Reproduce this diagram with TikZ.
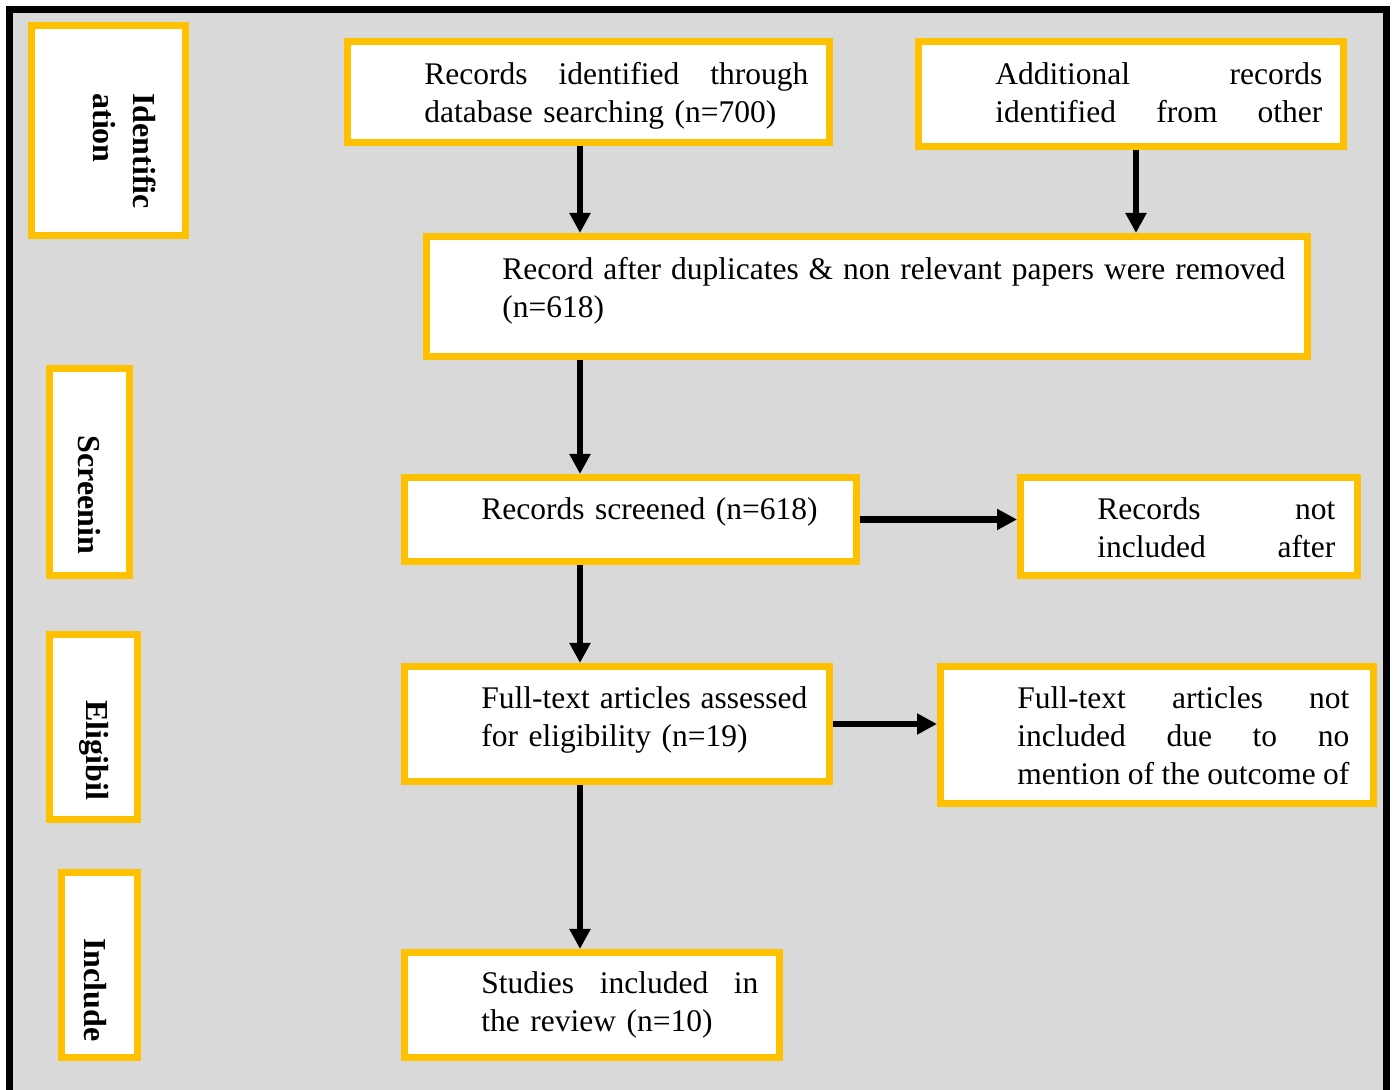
\documentclass[tikz,border=0pt]{standalone}
\usepackage{fontspec}
\setmainfont{Liberation Serif}
\usetikzlibrary{arrows.meta}
\definecolor{gold}{HTML}{FFC000}
\definecolor{panel}{HTML}{D9D9D9}
\newcommand{\jline}[2]{\makebox[#1][l]{#2}}
\begin{document}
\begin{tikzpicture}[x=0.5pt,y=-0.5pt,
  box/.style={draw=gold, fill=white, line width=3.5pt, rectangle, inner sep=0pt, anchor=north west},
  txt/.style={anchor=base west, inner sep=0pt, align=left, text width=#1, font=\fontsize{15.75pt}{19pt}\selectfont},
  side/.style={anchor=base west, inner sep=0pt, rotate=-90, align=left, text width=100pt, font=\bfseries\fontsize{16pt}{20pt}\selectfont},
  arr/.style={line width=3.2pt, -{Triangle[length=10pt,width=10pt]}}]
\useasboundingbox (0,0) rectangle (1394,1090);
\fill[white] (0,0) rectangle (1394,1090);
\begin{scope}
\clip (0,0) rectangle (1394,1090);
\draw[line width=3.5pt, fill=panel] (9.5,9.5) rectangle (1386,1130);
\end{scope}

% side boxes (outer corner positions)
\node[box, minimum width=77pt, minimum height=105pt] (sid) at (28,22) {};
\node[box, minimum width=40pt, minimum height=103.5pt] (ssc) at (46,365) {};
\node[box, minimum width=44pt, minimum height=92.5pt] (sel) at (46,631) {};
\node[box, minimum width=38pt, minimum height=92.5pt] (sin) at (58,869) {};
\node[side] (sid-t) at (133,93) {Identific\\ation};
\node[side] (ssc-t) at (78,435) {Screenin};
\node[side] (sel-t) at (86,700) {Eligibil};
\node[side] (sin-t) at (84,938) {Include};

% flow boxes
\node[box, minimum width=241pt, minimum height=50.5pt] (rid) at (344,38) {};
\node[box, minimum width=212.5pt, minimum height=52.5pt] (add) at (915,38) {};
\node[box, minimum width=440.5pt, minimum height=60pt] (dup) at (423,233) {};
\node[box, minimum width=226pt, minimum height=42pt] (scr) at (401,474) {};
\node[box, minimum width=168.5pt, minimum height=49pt] (nsc) at (1017,474) {};
\node[box, minimum width=212.5pt, minimum height=57.5pt] (fta) at (401,663) {};
\node[box, minimum width=216.5pt, minimum height=68.5pt] (ftn) at (937,663) {};
\node[box, minimum width=187.5pt, minimum height=52.5pt] (inc) at (401,949) {};

\node[txt=192pt] (rid-t) at (424,85) {\jline{192pt}{Records\hfill identified\hfill through}\\database searching (n=700)};
\node[txt=163.5pt] (add-t) at (995,85) {\jline{163.5pt}{Additional\hfill records}\\\jline{163.5pt}{identified\hfill from\hfill other}};
\node[txt=391.5pt] (dup-t) at (502,280) {\jline{391.5pt}{Record\hfill after\hfill duplicates\hfill \&\hfill non\hfill relevant\hfill papers\hfill were\hfill removed}\\(n=618)};
\node[txt=200pt] (scr-t) at (481,520) {Records screened (n=618)};
\node[txt=119pt] (nsc-t) at (1097,520) {\jline{119pt}{Records\hfill not}\\\jline{119pt}{included\hfill after}};
\node[txt=163pt] (fta-t) at (481,709) {\jline{163pt}{Full-text\hfill articles\hfill assessed}\\for eligibility (n=19)};
\node[txt=166pt] (ftn-t) at (1017,709) {\jline{166pt}{Full-text\hfill articles\hfill not}\\\jline{166pt}{included\hfill due\hfill to\hfill no}\\\jline{166pt}{mention\hfill of\hfill the\hfill outcome\hfill of}};
\node[txt=138.5pt] (inc-t) at (481,994) {\jline{138.5pt}{Studies\hfill included\hfill in}\\the review (n=10)};

% connectors
\coordinate (c1) at (580,0);
\coordinate (c2) at (1136,0);
\draw[arr] (rid.south -| c1) -- (dup.north -| c1);
\draw[arr] (add.south -| c2) -- (dup.north -| c2);
\draw[arr] (dup.south -| c1) -- (scr.north -| c1);
\draw[arr] (scr.east) -- (scr.east -| nsc.west);
\draw[arr] (scr.south -| c1) -- (fta.north -| c1);
\draw[arr] (fta.east) -- (fta.east -| ftn.west);
\draw[arr] (fta.south -| c1) -- (inc.north -| c1);
\end{tikzpicture}
\end{document}
